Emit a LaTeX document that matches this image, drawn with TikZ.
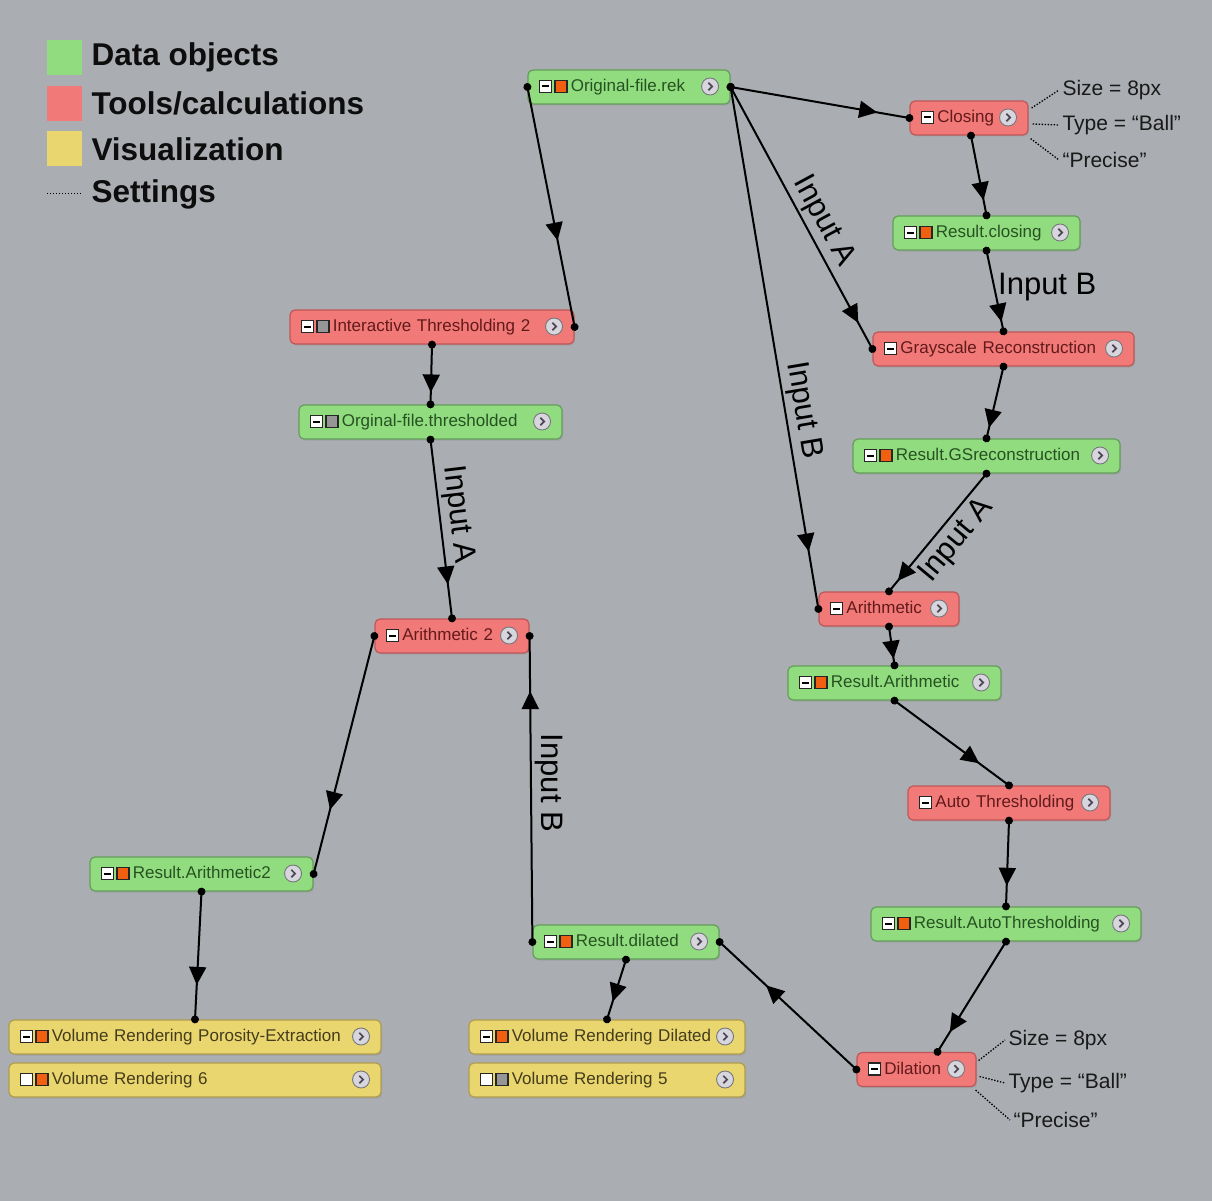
\documentclass[tikz,border=0pt]{standalone}
\usepackage{fontspec}
\setmainfont{Liberation Sans}
\usetikzlibrary{arrows.meta,decorations.markings,shadows}

\definecolor{bgcol}{RGB}{170,173,177}
\definecolor{datafill}{RGB}{146,220,128}
\definecolor{datadraw}{RGB}{100,158,90}
\definecolor{datatext}{RGB}{38,82,34}
\definecolor{toolfill}{RGB}{241,122,120}
\definecolor{tooldraw}{RGB}{190,88,88}
\definecolor{tooltext}{RGB}{98,26,26}
\definecolor{visfill}{RGB}{234,214,110}
\definecolor{visdraw}{RGB}{176,156,78}
\definecolor{vistext}{RGB}{68,60,28}
\definecolor{iconorange}{RGB}{240,96,16}
\definecolor{icongray}{RGB}{150,150,150}
\definecolor{chevfill}{RGB}{214,214,220}
\definecolor{chevdraw}{RGB}{118,118,126}
\definecolor{chevmark}{RGB}{78,70,88}

% little icons inside the blocks
\newcommand{\iconbox}[1]{\tikz[baseline=0pt,x=1pt,y=1pt,sharp corners]\draw[black!85,line width=1.4pt,fill=#1] (0,-1) rectangle (12,11);}
\newcommand{\iconminus}{\tikz[baseline=0pt,x=1pt,y=1pt,sharp corners]{\draw[black!85,line width=1.4pt,fill=white] (0,-1) rectangle (12,11); \draw[black,line width=2pt] (2.5,5)--(9.5,5);}}
\newcommand{\iconmore}{\tikz[baseline=0pt,x=1pt,y=1pt,sharp corners]{\draw[chevdraw,fill=chevfill,line width=0.9pt] (0,5) circle (8.5pt); \draw[chevmark,line width=1.7pt] (-1.7,8.7)--(2,5)--(-1.7,1.3);}}

\tikzset{
  block/.style={rounded corners=5pt, line width=1.2pt, minimum height=34pt, inner xsep=11pt, inner ysep=0pt,
    text height=13pt, text depth=4pt, align=left, font=\fontsize{17}{20}\selectfont,
    drop shadow={opacity=0.25,shadow xshift=1.2pt,shadow yshift=-1.5pt}},
  datablock/.style={block, fill=datafill, draw=datadraw, text=datatext},
  toolblock/.style={block, fill=toolfill, draw=tooldraw, text=tooltext},
  visblock/.style={block, fill=visfill, draw=visdraw, text=vistext},
  link/.style={draw, line width=2pt, postaction={decorate}, decoration={markings,
    mark=at position 0 with {\fill circle (4pt);},
    mark=at position #1 with {\arrow{Triangle[length=18pt,width=17pt]}},
    mark=at position 1 with {\fill circle (4pt);}}},
  inlabel/.style={font=\fontsize{31}{36}\selectfont, inner sep=1pt},
  setline/.style={draw, line width=1.3pt, dash pattern=on 1.4pt off 1.6pt},
  settext/.style={anchor=west, font=\fontsize{21}{24}\selectfont, text=black!90},
  legendbox/.style={minimum size=35pt, inner sep=0pt},
  legendtext/.style={anchor=west, font=\fontsize{31.5}{36}\selectfont\bfseries, text=black!95}
}

\begin{document}
\begin{tikzpicture}[x=1pt,y=-1pt]
\fill[bgcol] (0,0) rectangle (1212,1201);

%legend
\node[legendbox, fill=datafill] (lgdata) at (64.5,57.5) {};
\node[legendbox, fill=toolfill] (lgtool) at (64.5,103.5) {};
\node[legendbox, fill=visfill] (lgvis) at (64.5,148.5) {};
\coordinate (lgsetA) at (47,194);
\coordinate (lgsetB) at (82,194);
\draw[setline, line width=1pt] (lgsetA) -- (lgsetB);
\node[legendtext] (lgdatatxt) at (88,57) {Data objects};
\node[legendtext] (lgtooltxt) at (88,103) {Tools/calculations};
\node[legendtext] (lgvistxt) at (88,149) {Visualization};
\node[legendtext] (lgsettxt) at (88,194) {Settings};

%blocks right branch
\node[datablock, text width=180pt] (orig) at (629,87) {\iconminus\hspace{2pt}\iconbox{iconorange}\hspace{3pt}Original-file.rek\hfill\iconmore};
\node[toolblock, text width=96pt] (closing) at (969,118) {\iconminus\hspace{3pt}Closing\hfill\iconmore};
\node[datablock, text width=165pt] (rclosing) at (986.5,233) {\iconminus\hspace{2pt}\iconbox{iconorange}\hspace{3pt}Result.closing\hfill\iconmore};
\node[toolblock, text width=239pt] (gsrec) at (1003.5,349) {\iconminus\hspace{3pt}Grayscale Reconstruction\hfill\iconmore};
\node[datablock, text width=245pt] (rgs) at (986.5,456) {\iconminus\hspace{2pt}\iconbox{iconorange}\hspace{3pt}Result.GSreconstruction\hfill\iconmore};
\node[toolblock, text width=118pt] (arith) at (889,609) {\iconminus\hspace{3pt}Arithmetic\hfill\iconmore};
\node[datablock, text width=191pt] (rarith) at (894.5,683) {\iconminus\hspace{2pt}\iconbox{iconorange}\hspace{3pt}Result.Arithmetic\hfill\iconmore};
\node[toolblock, text width=180pt] (autoth) at (1009,803) {\iconminus\hspace{3pt}Auto Thresholding\hfill\iconmore};
\node[datablock, text width=248pt] (rauto) at (1006,924) {\iconminus\hspace{2pt}\iconbox{iconorange}\hspace{3pt}Result.AutoThresholding\hfill\iconmore};
\node[toolblock, text width=97pt] (dil) at (916.5,1069.5) {\iconminus\hspace{3pt}Dilation\hfill\iconmore};
\node[datablock, text width=164pt] (rdil) at (626,942) {\iconminus\hspace{2pt}\iconbox{iconorange}\hspace{3pt}Result.dilated\hfill\iconmore};
\node[visblock, text width=254pt] (vrdil) at (607,1037) {\iconminus\hspace{2pt}\iconbox{iconorange}\hspace{3pt}Volume Rendering Dilated\hfill\iconmore};
\node[visblock, text width=254pt] (vrfive) at (607,1080) {\iconbox{white}\hspace{2pt}\iconbox{icongray}\hspace{3pt}Volume Rendering 5\hfill\iconmore};

%blocks left branch
\node[toolblock, text width=262pt] (ith) at (432,327) {\iconminus\hspace{2pt}\iconbox{icongray}\hspace{3pt}Interactive Thresholding 2\hfill\iconmore};
\node[datablock, text width=241pt] (othr) at (430.5,422) {\iconminus\hspace{2pt}\iconbox{icongray}\hspace{3pt}Orginal-file.thresholded\hfill\iconmore};
\node[toolblock, text width=132pt] (arithtwo) at (452,636) {\iconminus\hspace{3pt}Arithmetic 2\hfill\iconmore};
\node[datablock, text width=201pt] (rarithtwo) at (201.5,874) {\iconminus\hspace{2pt}\iconbox{iconorange}\hspace{3pt}Result.Arithmetic2\hfill\iconmore};
\node[visblock, text width=350pt] (vrpor) at (195,1037) {\iconminus\hspace{2pt}\iconbox{iconorange}\hspace{3pt}Volume Rendering Porosity-Extraction\hfill\iconmore};
\node[visblock, text width=350pt] (vrsix) at (195,1080) {\iconbox{white}\hspace{2pt}\iconbox{iconorange}\hspace{3pt}Volume Rendering 6\hfill\iconmore};

%settings
\node[settext] (clsize) at (1059,90) {Size = 8px};
\node[settext] (cltype) at (1059,125) {Type = “Ball”};
\node[settext] (clprec) at (1059,160) {“Precise”};
\draw[setline] ([shift={(3pt,10pt)}]closing.east) -- (clsize.west);
\draw[setline] ([shift={(4pt,-6pt)}]closing.east) -- (cltype.west);
\draw[setline] ([shift={(2pt,-3pt)}]closing.south east) -- (clprec.west);
\node[settext] (dlsize) at (1005,1040) {Size = 8px};
\node[settext] (dltype) at (1005,1083) {Type = “Ball”};
\node[settext] (dlprec) at (1010,1120) {“Precise”};
\draw[setline] ([shift={(2pt,9pt)}]dil.east) -- (dlsize.west);
\draw[setline] ([shift={(3pt,-7pt)}]dil.east) -- (dltype.west);
\draw[setline] ([shift={(-1pt,-3pt)}]dil.south east) -- (dlprec.west);

%links
\path[link=0.82] (orig.east) -- (closing.west);
\path[link=0.9] (orig.east) -- node[inlabel, sloped, above=2pt, pos=0.545] {Input A} (gsrec.west);
\path[link=0.89] (orig.east) -- node[inlabel, sloped, above=2pt, pos=0.625] {Input B} (arith.west);
\path[link=0.64] (orig.west) -- (ith.east);
\path[link=0.81] ([xshift=2pt]closing.south) -- (rclosing.north);
\path[link=0.88] (rclosing.south) -- node[inlabel, right=2pt, pos=0.45] {Input B} (gsrec.north);
\path[link=0.85] (gsrec.south) -- (rgs.north);
\path[link=0.91] (rgs.south) -- node[inlabel, sloped, below=4pt, pos=0.46] {Input A} (arith.north);
\path[link=0.83] (arith.south) -- (rarith.north);
\path[link=0.74] (rarith.south) -- (autoth.north);
\path[link=0.76] (autoth.south) -- (rauto.north);
\path[link=0.82] (rauto.south) -- ([xshift=21pt]dil.north);
\path[link=0.66] (dil.west) -- (rdil.east);
\path[link=0.7] (rdil.south) -- (vrdil.north);
\path[link=0.82] (rdil.west) -- node[inlabel, pos=0.52, anchor=south, rotate=-90, yshift=2pt] {Input B} (arithtwo.east);
\path[link=0.8] (ith.south) -- (othr.north);
\path[link=0.81] (othr.south) -- node[inlabel, sloped, above=2pt, pos=0.43] {Input A} (arithtwo.north);
\path[link=0.73] (arithtwo.west) -- (rarithtwo.east);
\path[link=0.73] (rarithtwo.south) -- (vrpor.north);
\end{tikzpicture}
\end{document}
